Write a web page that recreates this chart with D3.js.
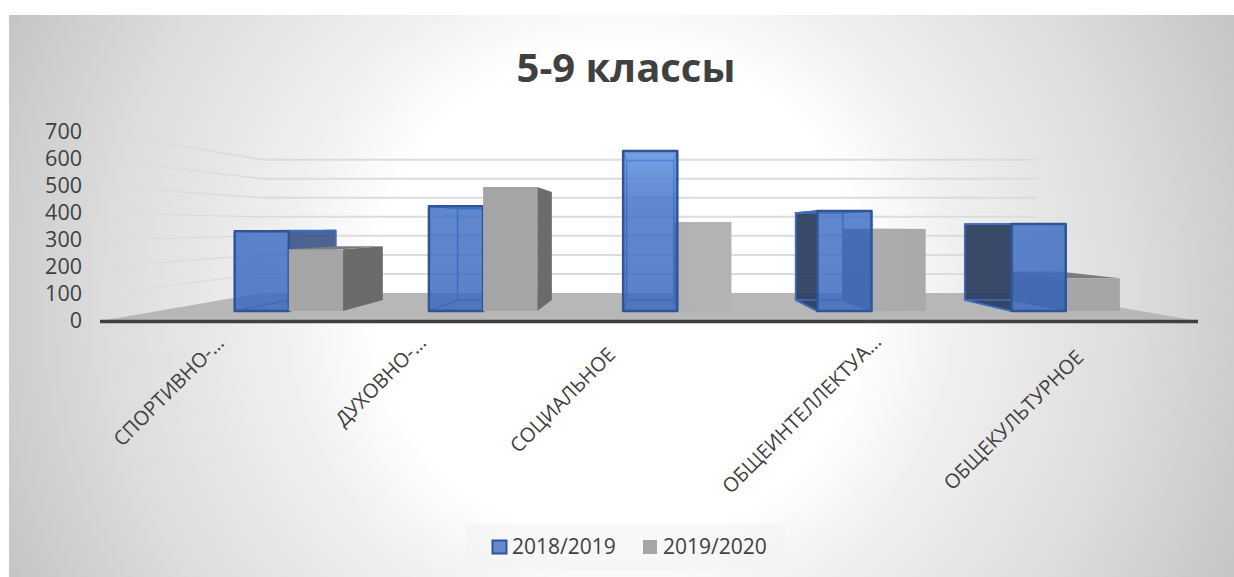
<!DOCTYPE html>
<html>
<head>
<meta charset="utf-8">
<script src="https://cdn.jsdelivr.net/npm/d3@7"></script>
<style>
  html, body { margin: 0; padding: 0; background: #fff; }
  svg { display: block; }
  text { font-family: "Open Sans", sans-serif; fill: #404040; }
</style>
</head>
<body>
<svg id="chart" width="1234" height="577"></svg>
<script>
(function () {
  'use strict';

  var categories = ['СПОРТИВНО-…', 'ДУХОВНО-…', 'СОЦИАЛЬНОЕ', 'ОБЩЕИНТЕЛЛЕКТУА…', 'ОБЩЕКУЛЬТУРНОЕ'];
  var seriesNames = ['2018/2019', '2019/2020'];
  var values2018 = [330, 434, 662, 414, 360];
  var values2019 = [256, 513, 368, 339, 136];
  var yTicks = [0, 100, 200, 300, 400, 500, 600, 700];

  var svg = d3.select('#chart');
  var defs = svg.append('defs');

  // Perspective: everything shrinks toward the vanishing point with depth s
  var vp = { x: 650, y: 226 };
  var depth = { front: 1, barFront: 0.895, barBack: 0.779, wall: 0.705 };

  var yScale = d3.scaleLinear().domain([0, 700]).range([321, 132]);
  var xBand = d3.scaleBand().domain(categories).range([138, 1223]);
  // the two bars touch, so only outer padding
  var xSeries = d3.scaleBand().domain(seriesNames).range([0, xBand.bandwidth()])
    .paddingInner(0).paddingOuter(0.793);

  function project(wx, value, s) {
    return [vp.x + (wx - vp.x) * s, vp.y + (yScale(value) - vp.y) * s];
  }

  function poly(parent, pts) {
    return parent.append('polygon').attr('points', pts.map(function (p) { return p.join(','); }).join(' '));
  }

  function seg(parent, a, b) {
    return parent.append('line').attr('x1', a[0]).attr('y1', a[1]).attr('x2', b[0]).attr('y2', b[1]);
  }

  function gradient(id, attrs, stops) {
    var g = defs.append('linearGradient').attr('id', id).attr('gradientUnits', 'userSpaceOnUse');
    Object.keys(attrs).forEach(function (k) { g.attr(k, attrs[k]); });
    stops.forEach(function (st) {
      g.append('stop').attr('offset', st[0]).attr('stop-color', st[1]).attr('stop-opacity', st[2] === undefined ? 1 : st[2]);
    });
  }

  // Background
  var bg = defs.append('radialGradient').attr('id', 'bg').attr('gradientUnits', 'userSpaceOnUse')
    .attr('cx', 620).attr('cy', 296).attr('r', 680);
  [[0, '#ffffff'], [0.36, '#ffffff'], [0.5, '#f0f0f0'], [0.76, '#dcdcdc'], [1, '#c4c4c4']].forEach(function (st) {
    bg.append('stop').attr('offset', st[0]).attr('stop-color', st[1]);
  });
  svg.append('rect').attr('x', 9).attr('y', 15).attr('width', 1225).attr('height', 562).attr('fill', 'url(#bg)');

  gradient('sideGrid', { x1: 100, y1: 0, x2: 265, y2: 0 }, [[0, '#d9d9d9', 0], [0.3, '#d9d9d9', 0.5], [1, '#d9d9d9', 1]]);
  gradient('blueFront', { x1: 0, y1: 150, x2: 0, y2: 311 }, [[0, '#5b8de1'], [0.35, '#3f6fc4'], [1, '#3a69bd']]);
  gradient('grayFront', { x1: 536, y1: 0, x2: 1116, y2: 0 }, [[0, '#a5a5a5'], [0.3, '#b4b4b4'], [0.65, '#aaaaaa'], [1, '#a5a5a5']]);

  // Walls
  var grid = svg.append('g');
  yTicks.slice(1).forEach(function (t) {
    var a = project(100, t, depth.front);
    var b = project(100, t, depth.wall);
    var c = project(1198, t, depth.wall);
    seg(grid, a, b).attr('stroke', 'url(#sideGrid)').attr('stroke-width', 1.6);
    seg(grid, b, c).attr('stroke', '#dcdcdc').attr('stroke-width', 2);
  });

  // Floor
  poly(svg, [project(100, 0, depth.front), project(100, 0, depth.wall), project(1198, 0, depth.wall), project(1198, 0, depth.front)])
    .attr('fill', '#b7b7b7');

  // Bars
  function corners(wx0, wx1, v) {
    return {
      fb0: project(wx0, 0, depth.barFront), fb1: project(wx1, 0, depth.barFront),
      ft0: project(wx0, v, depth.barFront), ft1: project(wx1, v, depth.barFront),
      bb0: project(wx0, 0, depth.barBack), bb1: project(wx1, 0, depth.barBack),
      bt0: project(wx0, v, depth.barBack), bt1: project(wx1, v, depth.barBack)
    };
  }

  function drawGray(parent, wx0, wx1, v) {
    var c = corners(wx0, wx1, v);
    var g = parent.append('g');
    if (c.ft1[0] < vp.x) poly(g, [c.ft1, c.bt1, c.bb1, c.fb1]).attr('fill', '#6b6b6b');
    if (c.ft0[0] > vp.x) poly(g, [c.ft0, c.bt0, c.bb0, c.fb0]).attr('fill', '#6b6b6b');
    if (c.ft0[1] > vp.y) poly(g, [c.ft0, c.ft1, c.bt1, c.bt0]).attr('fill', '#7c7c7c');
    poly(g, [c.ft0, c.ft1, c.fb1, c.fb0]).attr('fill', 'url(#grayFront)');
  }

  function drawBlue(parent, wx0, wx1, v) {
    var c = corners(wx0, wx1, v);
    var g = parent.append('g');
    var edge = '#2f5597';
    // outer side faces
    if (c.ft1[0] < vp.x) poly(g, [c.ft1, c.bt1, c.bb1, c.fb1]).attr('fill', '#2f4a80').attr('fill-opacity', 0.85).attr('stroke', edge).attr('stroke-width', 1.5);
    if (c.ft0[0] > vp.x) poly(g, [c.ft0, c.bt0, c.bb0, c.fb0]).attr('fill', '#2b3c5e').attr('fill-opacity', 0.93).attr('stroke', edge).attr('stroke-width', 1.5);
    // inner edges, seen through the front
    var inner = g.append('g').attr('stroke', '#3f6fc4').attr('stroke-width', 1.5);
    seg(inner, c.bt0, c.bt1); seg(inner, c.bb0, c.bb1);
    seg(inner, c.bt0, c.bb0); seg(inner, c.bt1, c.bb1);
    seg(inner, c.ft0, c.bt0); seg(inner, c.ft1, c.bt1);
    seg(inner, c.fb0, c.bb0); seg(inner, c.fb1, c.bb1);
    poly(g, [c.ft0, c.ft1, c.fb1, c.fb0]).attr('fill', 'url(#blueFront)').attr('fill-opacity', 0.83)
      .attr('stroke', edge).attr('stroke-width', 2.5).attr('stroke-linejoin', 'round');
  }

  var bars = svg.append('g');
  categories.forEach(function (cat, i) {
    var x0 = xBand(cat) + xSeries(seriesNames[0]);
    var x1 = xBand(cat) + xSeries(seriesNames[1]);
    var w = xSeries.bandwidth();
    var leftOfVp = project(x1 + w, 0, depth.barFront)[0] < vp.x;
    if (leftOfVp) {
      drawBlue(bars, x0, x0 + w, values2018[i]);
      drawGray(bars, x1, x1 + w, values2019[i]);
    } else {
      drawGray(bars, x1, x1 + w, values2019[i]);
      drawBlue(bars, x0, x0 + w, values2018[i]);
    }
  });

  // Category axis bar
  svg.append('line').attr('x1', 100).attr('x2', 1198).attr('y1', yScale(0) + 0.5).attr('y2', yScale(0) + 0.5)
    .attr('stroke', '#404040').attr('stroke-width', 3.5);

  // Value axis
  var yAxis = svg.append('g').attr('transform', 'translate(82,0)')
    .call(d3.axisLeft(yScale).tickValues(yTicks).tickSize(0).tickPadding(0));
  yAxis.select('.domain').remove();
  yAxis.selectAll('text').style('font-size', '21.5px').style('font-family', '"Open Sans", sans-serif').attr('fill', '#404040');

  // Category labels, rotated; Excel places each one a little differently
  var labelDx = [-72, -77, -112, -90, -95];
  var labelDy = [-9, -19, 0, 14, 20];
  var xLabel = d3.scalePoint().domain(categories).range([240.6, 1108.6]);
  categories.forEach(function (cat, i) {
    var lx = xLabel(cat) + labelDx[i];
    var ly = 400 + labelDy[i];
    svg.append('text')
      .attr('transform', 'translate(' + lx + ',' + ly + ') rotate(-45)')
      .attr('text-anchor', 'middle').attr('dy', '0.35em').style('font-size', '20px').text(cat);
  });

  // Title
  svg.append('text').attr('x', 626).attr('y', 82).attr('text-anchor', 'middle')
    .style('font-size', '40px').style('font-weight', 'bold').text('5-9 классы');

  // Legend
  svg.append('rect').attr('x', 466).attr('y', 524).attr('width', 320).attr('height', 46)
    .attr('fill', '#f2f2f2').attr('fill-opacity', 0.55);
  svg.append('rect').attr('x', 492.5).attr('y', 540.5).attr('width', 14).attr('height', 13)
    .attr('fill', '#6389d0').attr('stroke', '#2f5597').attr('stroke-width', 2);
  svg.append('rect').attr('x', 643).attr('y', 540).attr('width', 14).attr('height', 14).attr('fill', '#a5a5a5');
  svg.append('text').attr('x', 512).attr('y', 554).style('font-size', '21px').text(seriesNames[0]);
  svg.append('text').attr('x', 663).attr('y', 554).style('font-size', '21px').text(seriesNames[1]);
})();
</script>
</body>
</html>
